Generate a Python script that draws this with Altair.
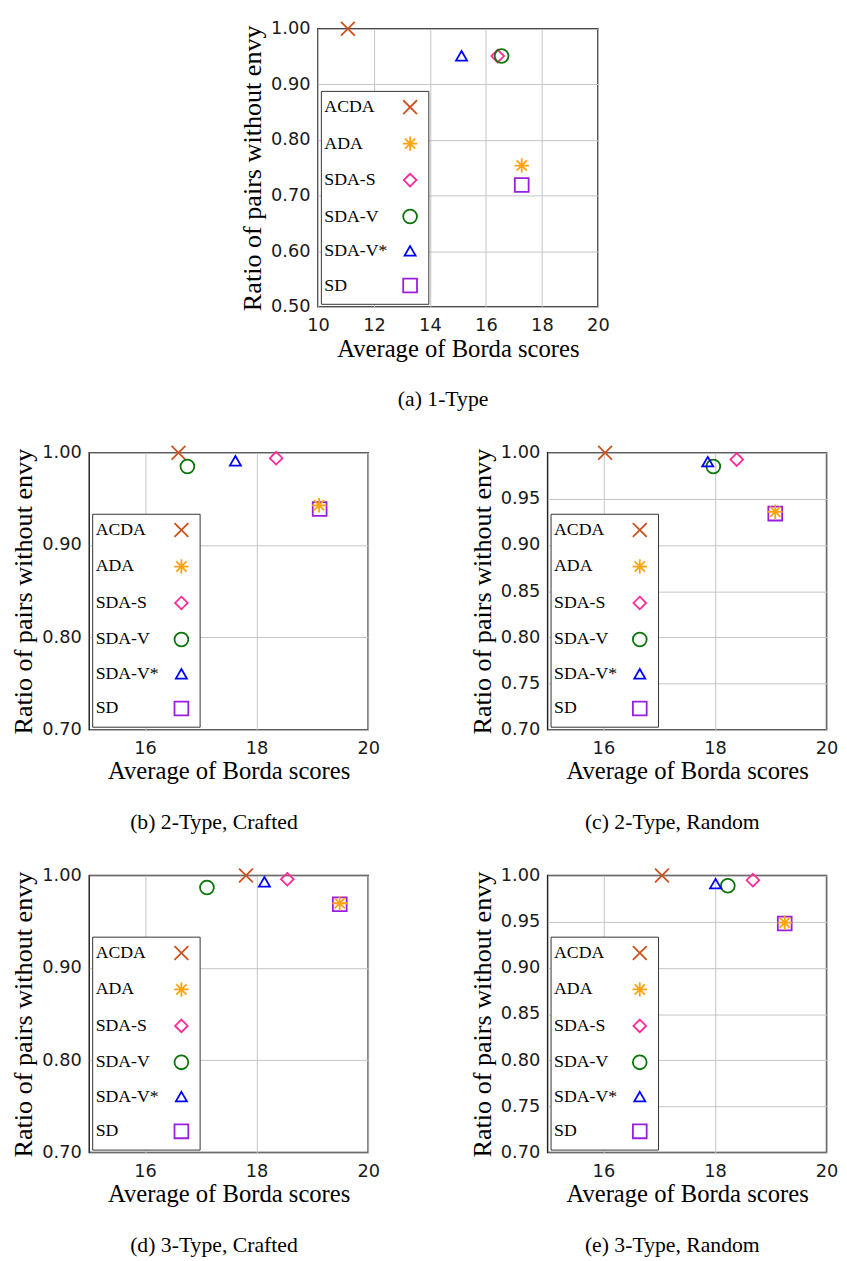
import altair as alt
import pandas as pd

methods = ["ACDA", "ADA", "SDA-S", "SDA-V", "SDA-V*", "SD"]
colors = ["#CC521C", "#FFA30F", "#FF2A9A", "#0A750A", "#0000FF", "#9A1DE0"]
draw_order = ["ACDA", "SDA-S", "SDA-V", "SDA-V*", "SD", "ADA"]

# (a) 1-Type
a_x = [11.07, 17.28, 16.42, 16.56, 15.13, 17.28]
a_y = [1.000, 0.754, 0.951, 0.951, 0.951, 0.719]
# (b) 2-Type, Crafted
b_x = [16.60, 19.12, 18.35, 16.76, 17.62, 19.13]
b_y = [1.000, 0.943, 0.994, 0.985, 0.991, 0.939]
# (c) 2-Type, Random
c_x = [16.03, 19.08, 18.39, 17.97, 17.87, 19.08]
c_y = [1.000, 0.936, 0.9925, 0.985, 0.990, 0.934]
# (d) 3-Type, Crafted
d_x = [17.81, 19.49, 18.55, 17.11, 18.14, 19.49]
d_y = [1.000, 0.970, 0.996, 0.987, 0.993, 0.969]
# (e) 3-Type, Random
e_x = [17.05, 19.25, 18.68, 18.23, 18.01, 19.25]
e_y = [1.000, 0.949, 0.995, 0.989, 0.991, 0.948]

captions = ["(a) 1-Type", "(b) 2-Type, Crafted", "(c) 2-Type, Random",
            "(d) 3-Type, Crafted", "(e) 3-Type, Random"]

shapes = [
    "M-1,-1L1,1M-1,1L1,-1",                                            # x
    "M0,-1.05L0,1.05M-1.05,0L1.05,0M-0.74,-0.74L0.74,0.74M-0.74,0.74L0.74,-0.74",  # asterisk
    "M0,-0.92L0.92,0L0,0.92L-0.92,0Z",                                 # diamond
    "circle",
    "M0,-0.72L0.8,0.66L-0.8,0.66Z",                                     # triangle
    "square",
]

SERIF = "Liberation Serif"
SANS = "DejaVu Sans"


def panel(xs, ys, xdom, xticks, ydom, yticks, caption, w, h):
    rows = {m: (x, y) for m, x, y in zip(methods, xs, ys)}
    df = pd.DataFrame(
        [{"method": m, "x": rows[m][0], "y": rows[m][1], "k": i}
         for i, m in enumerate(draw_order)]
    )
    return (
        alt.Chart(df)
        .mark_point(filled=False, size=196, strokeWidth=1.8, opacity=1)
        .encode(
            x=alt.X("x:Q", title="Average of Borda scores",
                    scale=alt.Scale(domain=xdom, nice=False, zero=False),
                    axis=alt.Axis(values=xticks, format="d",
                                  labelPadding=10, titlePadding=2,
                                  titleFontSize=25)),
            y=alt.Y("y:Q", title="Ratio of pairs without envy",
                    scale=alt.Scale(domain=ydom, nice=False, zero=False),
                    axis=alt.Axis(values=yticks, format=".2f",
                                  labelPadding=8, titlePadding=4,
                                  titleFontSize=26.5)),
            color=alt.Color("method:N",
                            scale=alt.Scale(domain=methods, range=colors),
                            legend=alt.Legend(
                                title=None, orient="bottom-left", offset=3,
                                padding=7.5, rowPadding=15,
                                symbolOffset=74, labelOffset={"expr": "-96"},
                                symbolSize=196, symbolStrokeWidth=1.8,
                                labelFont=SERIF, labelFontSize=18,
                                labelColor="black",
                                strokeColor="#333333", fillColor="white")),
            shape=alt.Shape("method:N",
                            scale=alt.Scale(domain=methods, range=shapes)),
            order=alt.Order("k:Q"),
        )
        .properties(
            width=w, height=h,
            title=alt.TitleParams(caption, orient="bottom", frame="group",
                                  dx=-15, offset=29, font=SERIF,
                                  fontSize=22, fontWeight="normal",
                                  color="black"),
        )
    )


pa = panel(a_x, a_y, [10, 20], [10, 12, 14, 16, 18, 20], [0.5, 1.0],
           [0.5, 0.6, 0.7, 0.8, 0.9, 1.0], captions[0], 284, 282)
pb = panel(b_x, b_y, [15, 20], [16, 18, 20], [0.7, 1.0],
           [0.7, 0.8, 0.9, 1.0], captions[1], 283, 281)
pc = panel(c_x, c_y, [15, 20], [16, 18, 20], [0.7, 1.0],
           [0.7, 0.75, 0.8, 0.85, 0.9, 0.95, 1.0], captions[2], 283, 281)
pd_ = panel(d_x, d_y, [15, 20], [16, 18, 20], [0.7, 1.0],
            [0.7, 0.8, 0.9, 1.0], captions[3], 283, 281)
pe = panel(e_x, e_y, [15, 20], [16, 18, 20], [0.7, 1.0],
           [0.7, 0.75, 0.8, 0.85, 0.9, 0.95, 1.0], captions[4], 283, 281)


def ind(c):
    return c.resolve_scale(color="independent", shape="independent",
                           x="independent", y="independent")


row1 = ind(alt.hconcat(pb, pc, spacing=89))
row2 = ind(alt.hconcat(pd_, pe, spacing=89))
chart = ind(alt.vconcat(pa, row1, row2, spacing=30, center=True))

chart = chart.properties(
    padding={"left": 2, "top": 0, "right": 0, "bottom": 0},
    background="white",
).configure_view(
    stroke="#262626", strokeWidth=1.5
).configure_axis(
    grid=True, gridColor="#c4c4c4", gridWidth=1, domain=False,
    ticks=False, labelFont=SANS, labelFontSize=18, labelColor="#1a1a1a",
    labelFlush=False, labelOverlap=False,
    titleFont=SERIF, titleFontWeight="normal", titleColor="black"
)

chart.save("out.html", embed_options={"renderer": "svg", "actions": False})
